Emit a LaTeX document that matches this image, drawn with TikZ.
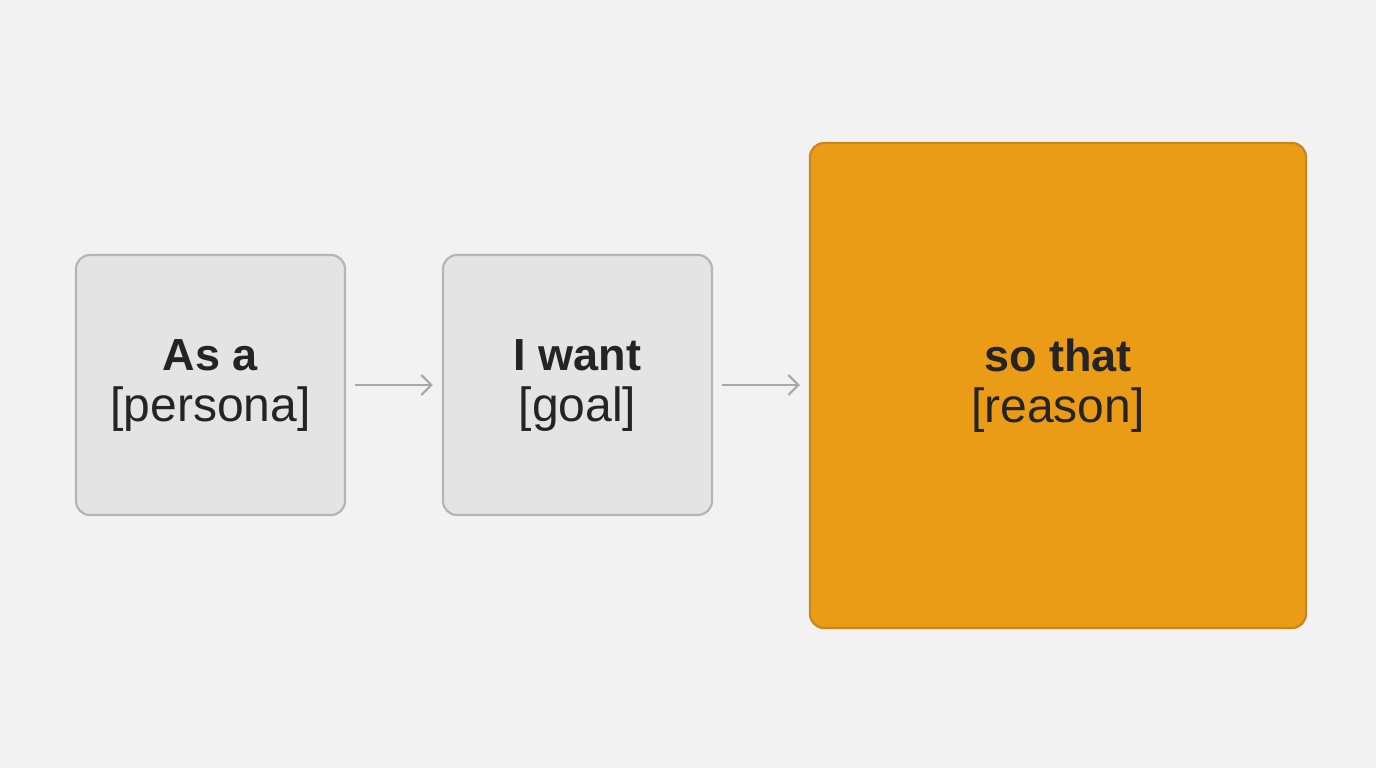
\documentclass[tikz,border=0pt]{standalone}
\usepackage{fontspec}
\setmainfont{Liberation Sans}
\usetikzlibrary{arrows.meta}
\definecolor{bg}{HTML}{F2F2F2}
\definecolor{grayfill}{HTML}{E4E4E4}
\definecolor{grayline}{HTML}{B5B5B5}
\definecolor{orangefill}{HTML}{EB9C17}
\definecolor{orangeline}{HTML}{C8871E}
\definecolor{txt}{HTML}{242424}
\definecolor{arrowc}{HTML}{A8A8A8}
\newcommand{\headtxt}[1]{{\fontsize{45}{51}\selectfont\bfseries #1}}
\newcommand{\subtxt}[1]{{\fontsize{48}{51}\selectfont #1}}
\tikzset{
  card/.style={draw=grayline, fill=grayfill, line width=2.2pt, rounded corners=14pt,
    minimum width=269pt, minimum height=260pt, align=center, text=txt, inner sep=0pt,
    font=\fontsize{47}{51}\selectfont},
  bigcard/.style={card, draw=orangeline, fill=orangefill, minimum width=496pt, minimum height=485pt},
  flow/.style={draw=arrowc, line width=2.2pt, shorten <=9pt, shorten >=9pt,
    -{Straight Barb[length=10pt,width=20pt,line width=2.2pt]}}
}
\begin{document}
\begin{tikzpicture}[x=1pt,y=-1pt]
\fill[bg] (0,0) rectangle (1376,768);
\useasboundingbox (0,0) rectangle (1376,768);
\node[card] (b1) at (210.5,385) {\headtxt{As a}\\\subtxt{[persona]}};
\node[card] (b2) at (577.5,385) {\headtxt{I want}\\\subtxt{[goal]}};
\node[bigcard] (b3) at (1058,385.5) {\headtxt{so that}\\\subtxt{[reason]}};
\draw[flow] (b1.east) -- (b2.west);
\draw[flow] (b2.east) -- (b3.west |- b2.east);
\end{tikzpicture}
\end{document}
